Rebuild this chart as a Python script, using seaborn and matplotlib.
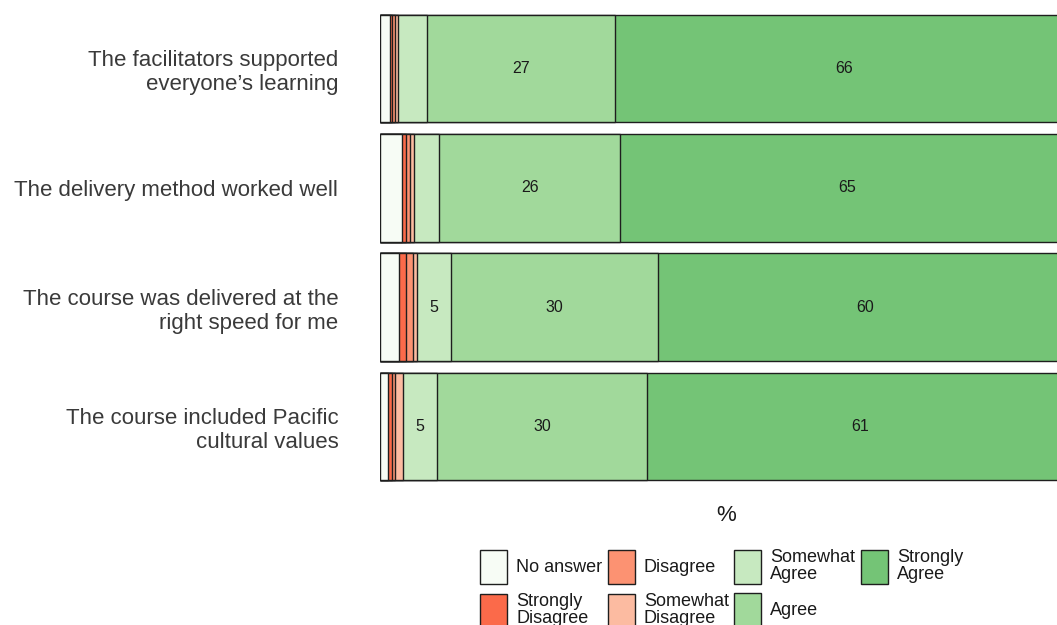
import matplotlib
matplotlib.use("Agg")
import matplotlib.pyplot as plt
import matplotlib.patches as mpatches
import seaborn as sns
import pandas as pd

questions = [
    "The facilitators supported\neveryone’s learning",
    "The delivery method worked well",
    "The course was delivered at the\nright speed for me",
    "The course included Pacific\ncultural values",
]
responses = ["No answer", "Strongly Disagree", "Disagree", "Somewhat Disagree",
             "Somewhat Agree", "Agree", "Strongly Agree"]
legend_labels = ["No answer", "Strongly\nDisagree", "Disagree", "Somewhat\nDisagree",
                 "Somewhat\nAgree", "Agree", "Strongly\nAgree"]
no_answer = [1.4, 3.2, 2.7, 1.2]
strongly_disagree = [0.4, 0.5, 1.1, 0.5]
disagree = [0.4, 0.6, 1.0, 0.5]
somewhat_disagree = [0.4, 0.6, 0.6, 1.1]
somewhat_agree = [4.2, 3.6, 4.8, 4.9]
agree = [27.1, 26.2, 29.9, 30.4]
strongly_agree = [66.1, 65.3, 59.9, 61.4]
colors = ["#f7fcf5", "#fb6a4a", "#fc9272", "#fcbba1", "#c7e9c0", "#a1d99b", "#74c476"]

df = pd.DataFrame({
    "question": questions,
    "No answer": no_answer,
    "Strongly Disagree": strongly_disagree,
    "Disagree": disagree,
    "Somewhat Disagree": somewhat_disagree,
    "Somewhat Agree": somewhat_agree,
    "Agree": agree,
    "Strongly Agree": strongly_agree,
})
cum = df[responses].cumsum(axis=1)

sns.set_style("white")
plt.rcParams["font.family"] = ["Liberation Sans", "DejaVu Sans"]

fig = plt.figure(figsize=(10.57, 6.25), dpi=100)
ax = fig.add_axes([380 / 1057, 139 / 625, 693 / 1057, 477 / 625])

# stacked bars: draw cumulative totals from the largest down
for resp, col in reversed(list(zip(responses, colors))):
    sns.barplot(x=cum[resp], y=df["question"], orient="h", color=col, width=0.9,
                saturation=1, edgecolor="#1e1e1e", linewidth=1, ax=ax)

for i, q in enumerate(questions):
    for resp in responses:
        v = df.loc[i, resp]
        if round(v) >= 5:
            ax.text(cum.loc[i, resp] - v / 2, i, f"{v:.0f}", ha="center", va="center",
                    fontsize=11.5, color="#1a1a1a")

ax.set_xlim(0, 100)
ax.set_ylim(3.5, -0.5)
sns.despine(ax=ax, left=True, bottom=True)
ax.tick_params(axis="x", length=0, labelbottom=False)
ax.tick_params(axis="y", length=0, pad=30, labelsize=16, labelcolor="#3a3a3a")
for t in ax.get_yticklabels():
    t.set_linespacing(1.2)
ax.set_ylabel("")
ax.set_xlabel("%", fontsize=16, color="#1a1a1a", labelpad=14)

handles = [mpatches.Patch(facecolor=c, edgecolor="#1e1e1e", linewidth=1) for c in colors]
leg = fig.legend(handles, legend_labels, ncol=4, loc="upper left",
                 bbox_to_anchor=(480 / 1057, 1 - 549 / 625), frameon=False,
                 fontsize=13, handlelength=1.5, handleheight=2.5, handletextpad=0.5,
                 columnspacing=0.3, labelspacing=0.5, borderpad=0, borderaxespad=0)
for t in leg.get_texts():
    t.set_linespacing(1.0)
    t.set_color("#1a1a1a")

fig.savefig("out.png", dpi=100)
